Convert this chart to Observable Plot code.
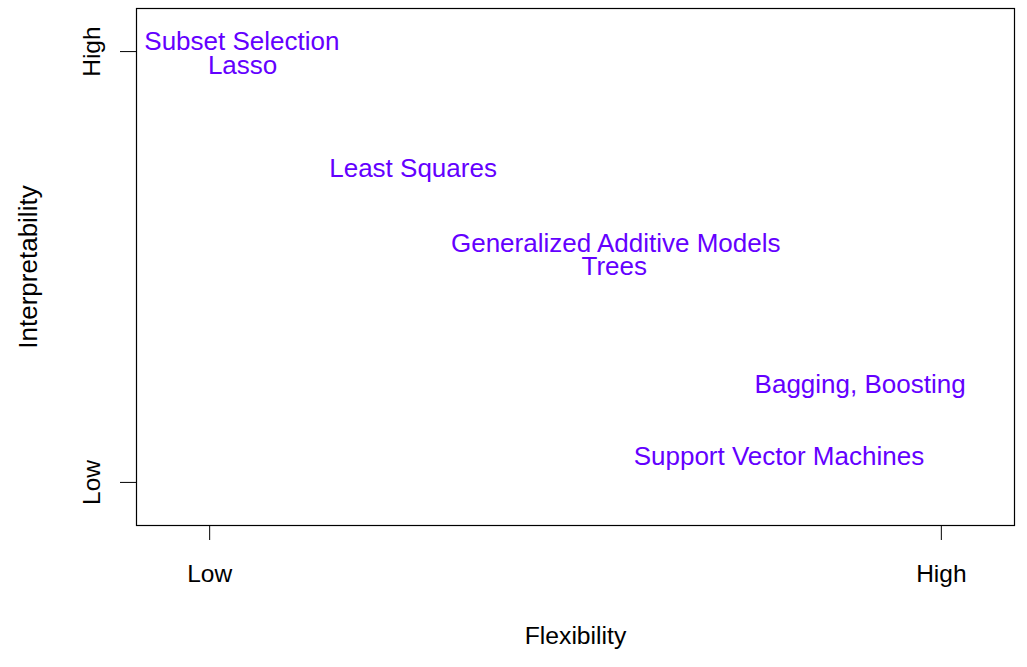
<!DOCTYPE html>
<html>
<head>
<meta charset="utf-8">
<script src="https://cdn.jsdelivr.net/npm/d3@7"></script>
<script src="https://cdn.jsdelivr.net/npm/@observablehq/plot@0.6"></script>
<style>
  html, body { margin: 0; padding: 0; background: #fff; }
  svg { display: block; }
</style>
</head>
<body>
<div id="chart"></div>
<script>
// ---- data ----
const methods = ["Subset Selection", "Lasso", "Least Squares", "Generalized Additive Models", "Trees", "Bagging, Boosting", "Support Vector Machines"];
const flexibility = [0.044, 0.045, 0.278, 0.555, 0.553, 0.889, 0.778];
const interpretability = [1.022, 0.968, 0.729, 0.553, 0.500, 0.228, 0.060];
const tickValues = [0, 1];
const tickLabels = ["Low", "High"];
const xTitle = "Flexibility";
const yTitle = "Interpretability";

const data = methods.map((m, i) => ({method: m, x: flexibility[i], y: interpretability[i]}));
const fmt = d => tickLabels[tickValues.indexOf(d)];
const font = "'Liberation Sans', Arial, Helvetica, sans-serif";

const chart = Plot.plot({
  width: 1027,
  height: 667,
  marginLeft: 136,
  marginRight: 13,
  marginTop: 8,
  marginBottom: 142,
  style: {fontFamily: font, background: "#fff", color: "#000"},
  x: {domain: [-0.1, 1.1]},
  y: {domain: [-0.1, 1.1]},
  marks: [
    Plot.frame({stroke: "#000", strokeWidth: 1.2}),
    Plot.axisX(tickValues, {anchor: "bottom", tickSize: 15, tickPadding: 24, tickFormat: fmt, fontSize: 24.5, label: null, stroke: "#000", fill: "#000"}),
    // y ticks (horizontal tick lines only)
    Plot.axisY(tickValues, {anchor: "left", tickSize: 16, tickFormat: () => "", label: null, stroke: "#000"}),
    // y tick labels, rotated
    Plot.axisY(tickValues, {anchor: "left", tickSize: 0, tickPadding: 37, tickFormat: fmt, fontSize: 24.5, label: null, rotate: -90, textAnchor: "middle", lineAnchor: "bottom", fill: "#000"}),
    Plot.text([xTitle], {text: d => d, frameAnchor: "bottom", dy: 118.3, lineAnchor: "bottom", textAnchor: "middle", fontSize: 24.7, fill: "#000"}),
    Plot.text([yTitle], {text: d => d, frameAnchor: "left", dx: -100, rotate: -90, lineAnchor: "bottom", textAnchor: "middle", fontSize: 26, fill: "#000"}),
    Plot.text(data, {x: "x", y: "y", text: "method", textAnchor: "middle", fontSize: 26, fill: "#6400ff"})
  ]
});
document.getElementById("chart").appendChild(chart);
</script>
</body>
</html>
